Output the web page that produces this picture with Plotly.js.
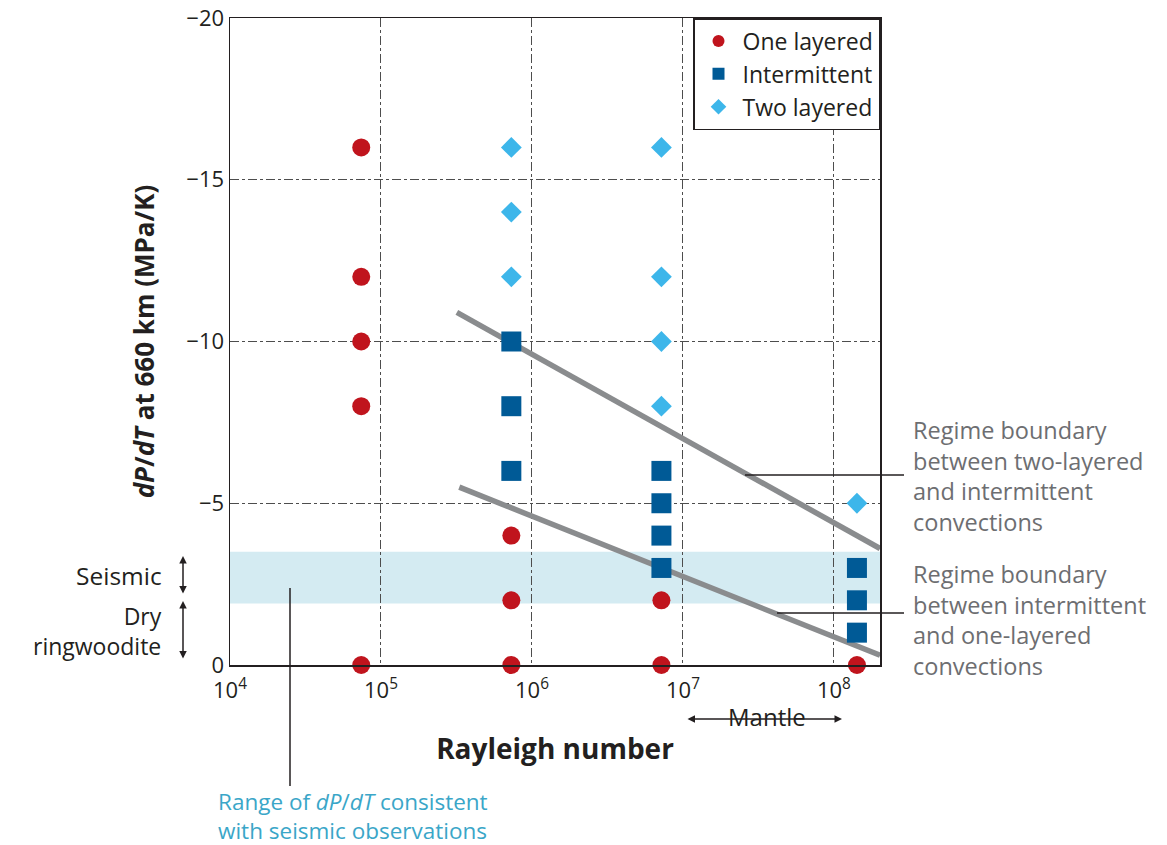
<!DOCTYPE html>
<html>
<head>
<meta charset="utf-8">
<script src="https://cdn.plot.ly/plotly-3.0.1.min.js"></script>
<style>
  html, body { margin: 0; padding: 0; background: #fff; }
  #chart { width: 1167px; height: 845px; }
</style>
</head>
<body>
<div id="chart"></div>
<script>
// Rayleigh number of each run and dP/dT at 660 km, grouped by convection regime
const raOne   = [7.4e4, 7.4e4, 7.4e4, 7.4e4, 7.4e4, 7.3e5, 7.3e5, 7.3e5, 7.2e6, 7.2e6, 1.42e8];
const dpdtOne = [-16, -12, -10, -8, 0, -4, -2, 0, -2, 0, 0];

const raInt   = [7.3e5, 7.3e5, 7.3e5, 7.2e6, 7.2e6, 7.2e6, 7.2e6, 1.42e8, 1.42e8, 1.42e8];
const dpdtInt = [-10, -8, -6, -6, -5, -4, -3, -3, -2, -1];

const raTwo   = [7.3e5, 7.3e5, 7.3e5, 7.2e6, 7.2e6, 7.2e6, 7.2e6, 1.42e8];
const dpdtTwo = [-16, -14, -12, -16, -12, -10, -8, -5];

// Regime boundaries (end points)
const raUpper   = [3.18e5, 2.02e8];
const dpdtUpper = [-10.9, -3.6];
const raLower   = [3.3e5, 2.02e8];
const dpdtLower = [-5.5, -0.3];

// dP/dT range consistent with seismic observations
const seismicRange = [-3.5, -1.9];

// Axis ticks
const xTickVals = [1e4, 1e5, 1e6, 1e7, 1e8];
const xTickText = ['10<sup>4</sup>', '10<sup>5</sup>', '10<sup>6</sup>', '10<sup>7</sup>', '10<sup>8</sup>'];
const yTickVals = [-20, -15, -10, -5, 0];
const yTickText = ['\u221220', '\u221215', '\u221210', '\u22125', '0'];

// Note texts, one entry per line
const noteUpper   = ['Regime boundary', 'between two-layered', 'and intermittent', 'convections'];
const noteLower   = ['Regime boundary', 'between intermittent', 'and one-layered', 'convections'];
const noteSeismic = ['Range of <i>dP</i>/<i>dT</i> consistent', 'with seismic observations'];
const noteDry     = ['Dry', 'ringwoodite'];

const FONT = 'Open Sans, Noto Sans, sans-serif';
const TXT = '#231f20';
const GREY_TXT = '#6d6e71';
const BLUE_TXT = '#3aa6c8';

const traces = [
  { x: raUpper, y: dpdtUpper, mode: 'lines', line: { color: '#8a8c8e', width: 5.5 },
    showlegend: false, hoverinfo: 'skip' },
  { x: raLower, y: dpdtLower, mode: 'lines', line: { color: '#8a8c8e', width: 5.5 },
    showlegend: false, hoverinfo: 'skip' },
  { x: raOne, y: dpdtOne, mode: 'markers', name: 'One layered', legendgroup: 'one', cliponaxis: false,
    marker: { symbol: 'circle', size: 18, color: '#c0141d' } },
  { x: raInt, y: dpdtInt, mode: 'markers', name: 'Intermittent', legendgroup: 'int', cliponaxis: false,
    marker: { symbol: 'square', size: 20, color: '#005a96' } },
  { x: raTwo, y: dpdtTwo, mode: 'markers', name: 'Two layered', legendgroup: 'two', cliponaxis: false,
    marker: { symbol: 'diamond', size: 16, color: '#3db6ea' } }
];

const W = 650, H = 647; // plot area size in px, used to place notes beside the axes
const px = v => (v - 230) / W;
const py = v => (665 - v) / H;

// a multi-line note centred vertically on yMid
function note(lines, xPix, yMid, anchor, size, color) {
  return {
    xref: 'paper', yref: 'paper', x: px(xPix), y: py(yMid),
    xanchor: anchor, yanchor: 'middle', align: anchor, showarrow: false,
    font: { size: size, color: color }, text: lines.join('<br>')
  };
}

const annotations = [
  note(noteUpper, 911, 476, 'left', 23.5, GREY_TXT),
  note(noteLower, 911, 620, 'left', 23.5, GREY_TXT),
  note(noteSeismic, 216, 816, 'left', 22.5, BLUE_TXT),
  note(['Seismic'], 164, 575, 'right', 24.5, TXT),
  note(noteDry, 164, 631, 'right', 23, TXT),
  // double-headed range arrows
  { xref: 'paper', yref: 'paper', x: px(183), y: py(556), ax: 0, ay: 39, text: '',
    showarrow: true, arrowhead: 2, arrowside: 'end+start', arrowsize: 1, arrowwidth: 1.5, arrowcolor: TXT },
  { xref: 'paper', yref: 'paper', x: px(183), y: py(601), ax: 0, ay: 59, text: '',
    showarrow: true, arrowhead: 2, arrowside: 'end+start', arrowsize: 1, arrowwidth: 1.5, arrowcolor: TXT },
  { xref: 'paper', yref: 'paper', x: px(842), y: py(719), ax: -156, ay: 0, text: '',
    showarrow: true, arrowhead: 2, arrowside: 'end+start', arrowsize: 1, arrowwidth: 1.5, arrowcolor: TXT },
  { xref: 'paper', yref: 'paper', x: px(767), y: py(716), xanchor: 'center', yanchor: 'middle',
    showarrow: false, font: { size: 24, color: TXT }, text: 'Mantle' }
];

const layout = {
  width: 1167, height: 845,
  margin: { l: 230, r: 287, t: 18, b: 180 },
  paper_bgcolor: '#fff', plot_bgcolor: '#fff',
  font: { family: FONT, color: TXT, size: 20 },
  showlegend: true,
  legend: {
    x: 1, y: 1, xanchor: 'right', yanchor: 'top',
    bgcolor: '#fff', bordercolor: '#231f20', borderwidth: 1.5,
    font: { size: 23, color: TXT, family: FONT },
    itemsizing: 'constant', itemwidth: 38, tracegroupgap: 9, traceorder: 'normal'
  },
  xaxis: {
    type: 'log', range: [4, 8.305],
    tickvals: xTickVals, ticktext: xTickText,
    tickfont: { size: 22, color: TXT }, ticklabelstandoff: 5,
    showgrid: true, gridcolor: '#4d4d4d', gridwidth: 1, griddash: 'dashdot',
    showline: true, linecolor: '#231f20', linewidth: 1.5, mirror: true,
    ticks: '', zeroline: false,
    title: { text: '<b>Rayleigh number</b>', font: { size: 28, color: TXT }, standoff: 36 }
  },
  yaxis: {
    range: [0, -20],
    tickvals: yTickVals, ticktext: yTickText,
    tickfont: { size: 22, color: TXT },
    showgrid: true, gridcolor: '#4d4d4d', gridwidth: 1, griddash: 'dashdot',
    showline: true, linecolor: '#231f20', linewidth: 1.5, mirror: true,
    ticks: '', zeroline: false,
    title: { text: '<b><i>dP</i>/<i>dT</i> at 660 km (MPa/K)</b>', font: { size: 26, color: TXT }, standoff: 24 }
  },
  shapes: [
    { type: 'rect', xref: 'paper', yref: 'y', x0: 0, x1: 1,
      y0: seismicRange[0], y1: seismicRange[1],
      fillcolor: '#d4ebf2', line: { width: 0 }, layer: 'below' },
    // leader lines to the boundary notes
    { type: 'line', xref: 'paper', yref: 'paper', x0: px(745), x1: px(904), y0: py(475), y1: py(475),
      line: { color: '#231f20', width: 1.5 } },
    { type: 'line', xref: 'paper', yref: 'paper', x0: px(777), x1: px(904), y0: py(613), y1: py(613),
      line: { color: '#231f20', width: 1.5 } },
    // leader line to the seismic range note
    { type: 'line', xref: 'paper', yref: 'paper', x0: px(290), x1: px(290), y0: py(588), y1: py(786),
      line: { color: '#231f20', width: 1.5 } }
  ],
  annotations: annotations
};

Plotly.newPlot('chart', traces, layout, { displayModeBar: false, staticPlot: true });
</script>
</body>
</html>
